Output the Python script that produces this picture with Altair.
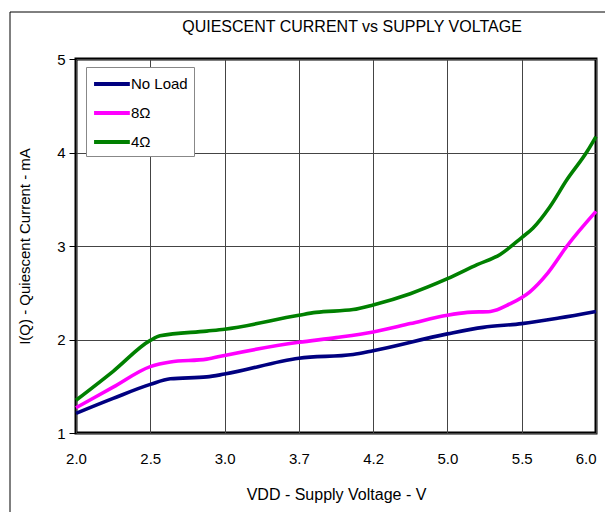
import altair as alt
import pandas as pd

title_text = "QUIESCENT CURRENT vs SUPPLY VOLTAGE"
# tick labels for the evenly spaced voltage axis (position index -> label)
x_labels = ["2.0", "2.5", "3.0", "3.7", "4.2", "5.0", "5.5", "6.0"]
series_order = ["No Load", "8Ω", "4Ω"]
series_colors = ["#000080", "#FF00FF", "#008000"]

noload_x = [0, 0.5, 1.0, 1.27, 1.76, 2.0, 3.0, 3.73, 4.0, 5.0, 5.48, 6.0, 6.5, 7.0]
noload_y = [1.21, 1.37, 1.52, 1.58, 1.60, 1.63, 1.80, 1.84, 1.88, 2.06, 2.13, 2.17, 2.23, 2.30]

ohm8_x = [0, 0.5, 1.0, 1.27, 1.76, 2.0, 3.0, 3.5, 4.0, 4.5, 5.0, 5.27, 5.58, 5.84, 6.11, 6.35, 6.61, 7.0]
ohm8_y = [1.27, 1.49, 1.71, 1.76, 1.79, 1.83, 1.97, 2.02, 2.08, 2.17, 2.26, 2.29, 2.30, 2.38, 2.51, 2.71, 3.00, 3.37]

ohm4_x = [0, 0.5, 1.0, 1.13, 1.76, 2.0, 3.0, 3.23, 3.73, 4.0, 4.5, 5.0, 5.4, 5.71, 6.0, 6.15, 6.38, 6.61, 6.88, 7.0]
ohm4_y = [1.35, 1.66, 1.99, 2.04, 2.09, 2.11, 2.26, 2.29, 2.32, 2.37, 2.49, 2.65, 2.80, 2.91, 3.09, 3.19, 3.42, 3.71, 4.01, 4.17]

rows = []
for name, xs, ys in [("No Load", noload_x, noload_y), ("8Ω", ohm8_x, ohm8_y), ("4Ω", ohm4_x, ohm4_y)]:
    for i, (a, b) in enumerate(zip(xs, ys)):
        rows.append({"series": name, "pos": a, "current": b, "order": i})
df = pd.DataFrame(rows)

label_expr = "[" + ",".join("'%s'" % s for s in x_labels) + "][datum.value]"

FONT = "Liberation Sans"

lines = alt.Chart(df).mark_line(strokeWidth=3.6, interpolate="monotone").encode(
    x=alt.X("pos:Q", scale=alt.Scale(domain=[0, 7], nice=False),
            axis=alt.Axis(values=list(range(8)), labelExpr=label_expr,
                          title="VDD - Supply Voltage - V", tickSize=0,
                          labelPadding=18, titlePadding=20, labelFlush=False,
                          labelOverlap=False, titleFontSize=16,
                          labelAlign={"condition": {"test": "datum.value == 7", "value": "right"},
                                      "value": "center"},
                          domain=False, gridColor="#444444", gridWidth=1)),
    y=alt.Y("current:Q", scale=alt.Scale(domain=[1, 5], nice=False),
            axis=alt.Axis(values=[1, 2, 3, 4, 5], title="I(Q) - Quiescent Current - mA",
                          tickSize=7, tickColor="#000000", labelPadding=4,
                          titlePadding=24, domain=False, labelFlush=False,
                          gridColor="#444444", gridWidth=1)),
    color=alt.Color("series:N", sort=series_order,
                    scale=alt.Scale(domain=series_order, range=series_colors),
                    legend=alt.Legend(title=None, orient="none", legendX=10, legendY=8,
                                      symbolType="M-1,0L3,0", symbolSize=320,
                                      symbolStrokeWidth=4, labelFontSize=15,
                                      labelFont=FONT, rowPadding=10,
                                      padding=6, strokeColor="#888888",
                                      fillColor="#FFFFFF", labelOffset=17)),
    detail="series:N",
    order="order:Q",
)

frame = alt.Chart(alt.Data(values=[{}])).mark_rect(
    fill=None, stroke="#000000", strokeWidth=1
).encode(
    x=alt.value(-66), x2=alt.value(700), y=alt.value(-47), y2=alt.value(600)
)

title = alt.Chart(alt.Data(values=[{"t": title_text}])).mark_text(
    font=FONT, fontSize=16, color="#000000", align="center", baseline="middle"
).encode(
    text="t:N", x=alt.value(276), y=alt.value(-32)
)

chart = alt.layer(frame, title, lines).properties(
    width=520, height=374,
    autosize="none",
    padding={"left": 76, "top": 59, "right": 9, "bottom": 79},
).configure_view(
    stroke="#000000", strokeWidth=3
).configure_axis(
    labelFont=FONT, titleFont=FONT, labelFontSize=15, titleFontSize=15,
    titleFontWeight="normal", labelColor="#000000", titleColor="#000000"
)

chart.save("out.html", embed_options={"renderer": "svg", "actions": False})
